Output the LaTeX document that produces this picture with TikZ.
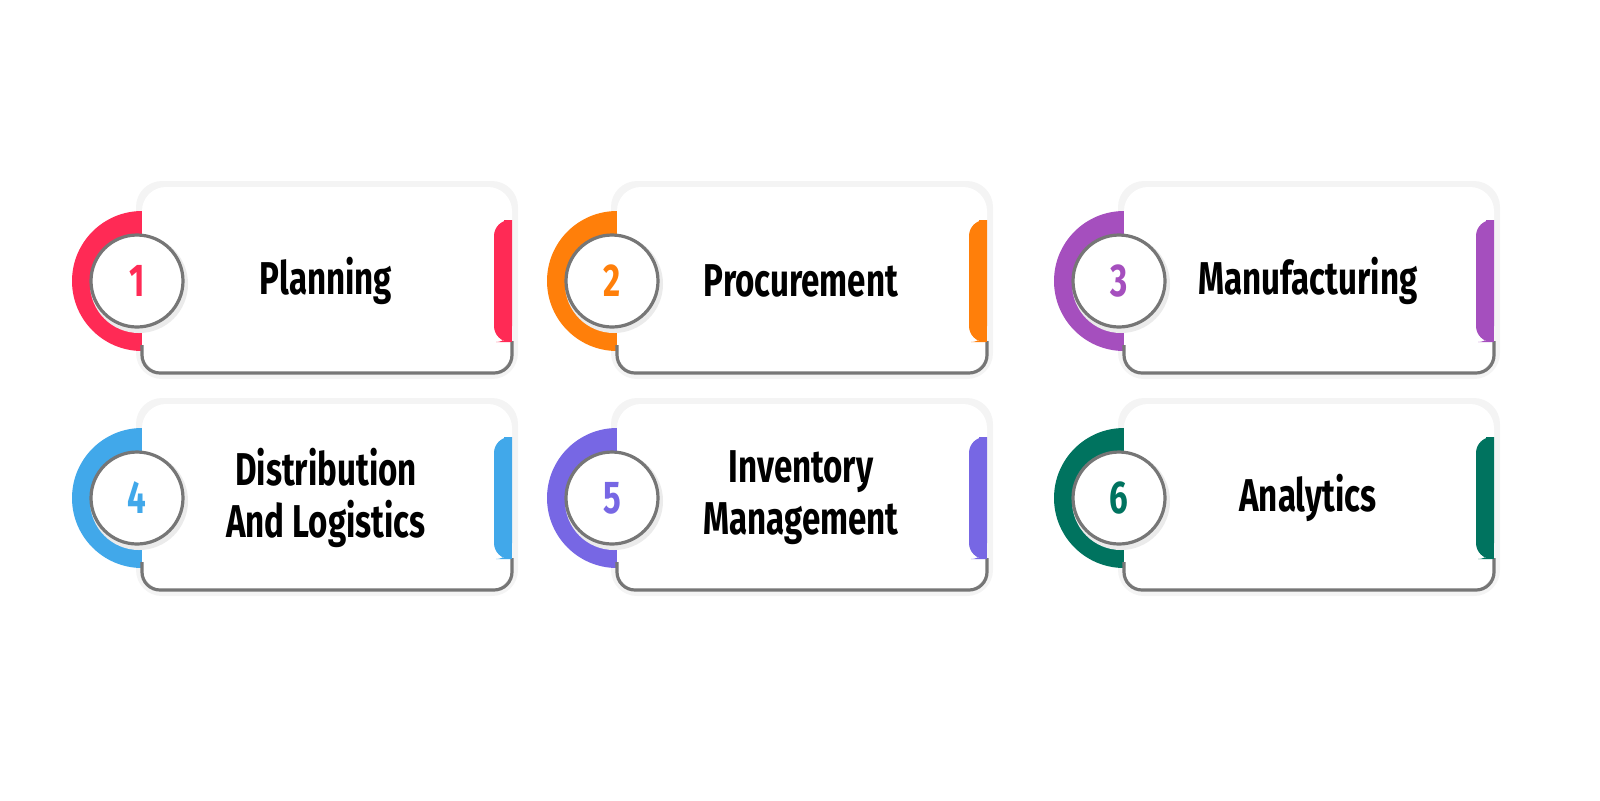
\documentclass[tikz,border=0pt]{standalone}
\usepackage{fontspec}
\setmainfont[FakeStretch=0.72]{Fira Sans}
\usetikzlibrary{shadows,calc}
\definecolor{c1}{HTML}{FF2A55}
\definecolor{c2}{HTML}{FF7F0A}
\definecolor{c3}{HTML}{A54FBE}
\definecolor{c4}{HTML}{41A8EA}
\definecolor{c5}{HTML}{7767E4}
\definecolor{c6}{HTML}{00735F}
\definecolor{bord}{HTML}{767676}
\definecolor{shad}{HTML}{F4F4F4}
\tikzset{
  numcircle/.style={circle,fill=white,draw=bord,line width=1.6pt,minimum size=46pt,inner sep=0pt,font=\bfseries\fontsize{23}{24}\selectfont},
  label/.style={align=center,font=\bfseries\fontsize{23}{26}\selectfont,text=black}
}
\newcommand{\mycard}[6]{% #1 left, #2 top, #3 color, #4 number, #5 text, #6 name
  \begin{scope}[shift={(#1,-#2)}]
    \fill[shad,rounded corners=13] (-3,3) rectangle (188,-96);
    \fill[#3] (0,-12) arc[start angle=90,end angle=270,radius=35] -- cycle;
    \fill[white,rounded corners=12] (0,0) rectangle (185,-93);
    \draw[bord,line width=1.6pt,rounded corners=9] (0,-79) -- (0,-93) -- (185,-93) -- (185,-77);
    \fill[#3,rounded corners=8] (185,-16.5) -- (176,-16.5) -- (176,-77.5) -- (185,-77.5) [sharp corners] -- cycle;
    \fill[#3] (181,-16.5) rectangle (185,-77.5);
    \fill[black!8] (-1.5,-48.5) circle (24.5);
    \node[numcircle,text=#3] (#6n) at (-2.5,-47) {#4};
    \node[label] (#6t) at (92,-47) {#5};
  \end{scope}
}
\begin{document}
\begin{tikzpicture}[x=1pt,y=1pt]
\mycard{71}{93.5}{c1}{1}{Planning}{a}
\mycard{308.5}{93.5}{c2}{2}{Procurement}{b}
\mycard{562}{93.5}{c3}{3}{Manufacturing}{c}
\mycard{71}{202}{c4}{4}{Distribution\\And Logistics}{d}
\mycard{308.5}{202}{c5}{5}{Inventory\\Management}{e}
\mycard{562}{202}{c6}{6}{Analytics}{f}
\pgfresetboundingbox
\useasboundingbox (0,0) rectangle (800,-400);
\end{tikzpicture}
\end{document}
